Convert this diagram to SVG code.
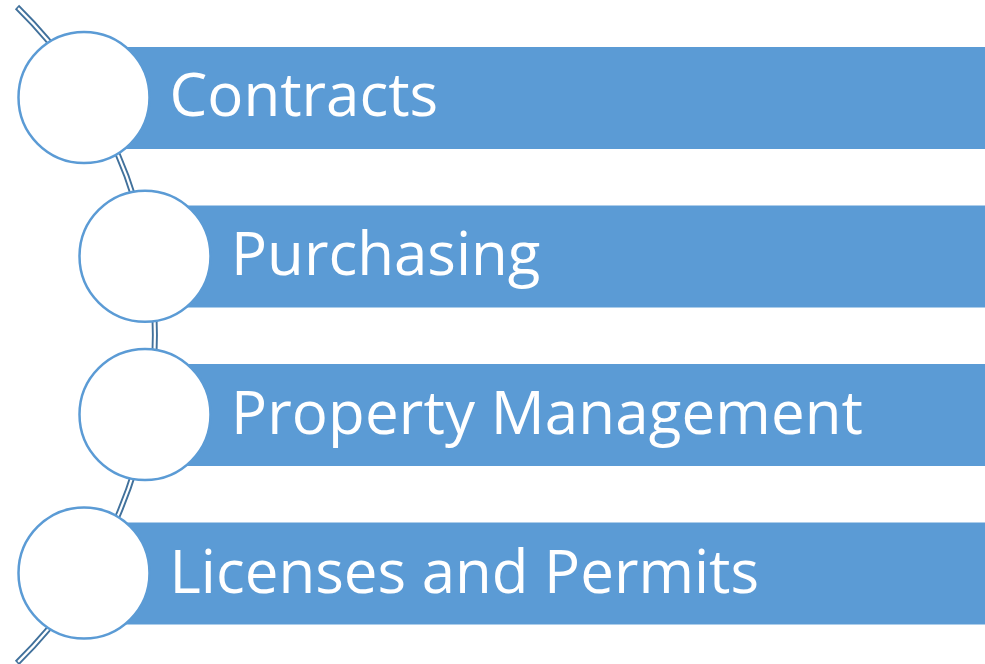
<svg xmlns="http://www.w3.org/2000/svg" width="985" height="664" viewBox="0 0 985 664">
  <style>
    .bar { fill: #5B9BD5; stroke: #ffffff; stroke-width: 1; }
    .dot { fill: #ffffff; stroke: #5B9BD5; stroke-width: 2.5; }
    .label { fill: #ffffff; font-family: "Open Sans", "Liberation Sans", sans-serif; font-size: 60px; }
    .rail { fill: none; stroke: #41719C; stroke-width: 6; }
    .rail-gap { fill: none; stroke: #ffffff; stroke-width: 2.2; }
  </style>
  <rect width="985" height="664" fill="#ffffff"/>

  <!-- curved double rail linking the circles -->
  <g id="connectors">
    <path class="rail" d="M 17 7 A 459 459 0 0 1 17 663"/>
    <path class="rail-gap" d="M 18.1 8.1 A 459 459 0 0 1 18.1 661.9"/>
  </g>

  <g id="item-contracts">
    <rect class="bar" x="84" y="46.5" width="902" height="103"/>
    <circle class="dot" cx="84" cy="97.5" r="65.5"/>
    <text class="label" x="169.5" y="116">Contracts</text>
  </g>

  <g id="item-purchasing">
    <rect class="bar" x="145" y="205" width="841" height="103"/>
    <circle class="dot" cx="145" cy="256.3" r="65.5"/>
    <text class="label" x="231" y="275">Purchasing</text>
  </g>

  <g id="item-property">
    <rect class="bar" x="145" y="363.5" width="841" height="103"/>
    <circle class="dot" cx="145" cy="414.5" r="65.5"/>
    <text class="label" x="231" y="433.5" textLength="632">Property Management</text>
  </g>

  <g id="item-licenses">
    <rect class="bar" x="84" y="522" width="902" height="103"/>
    <circle class="dot" cx="84" cy="573" r="65.5"/>
    <text class="label" x="169.5" y="592.5">Licenses and Permits</text>
  </g>
</svg>
